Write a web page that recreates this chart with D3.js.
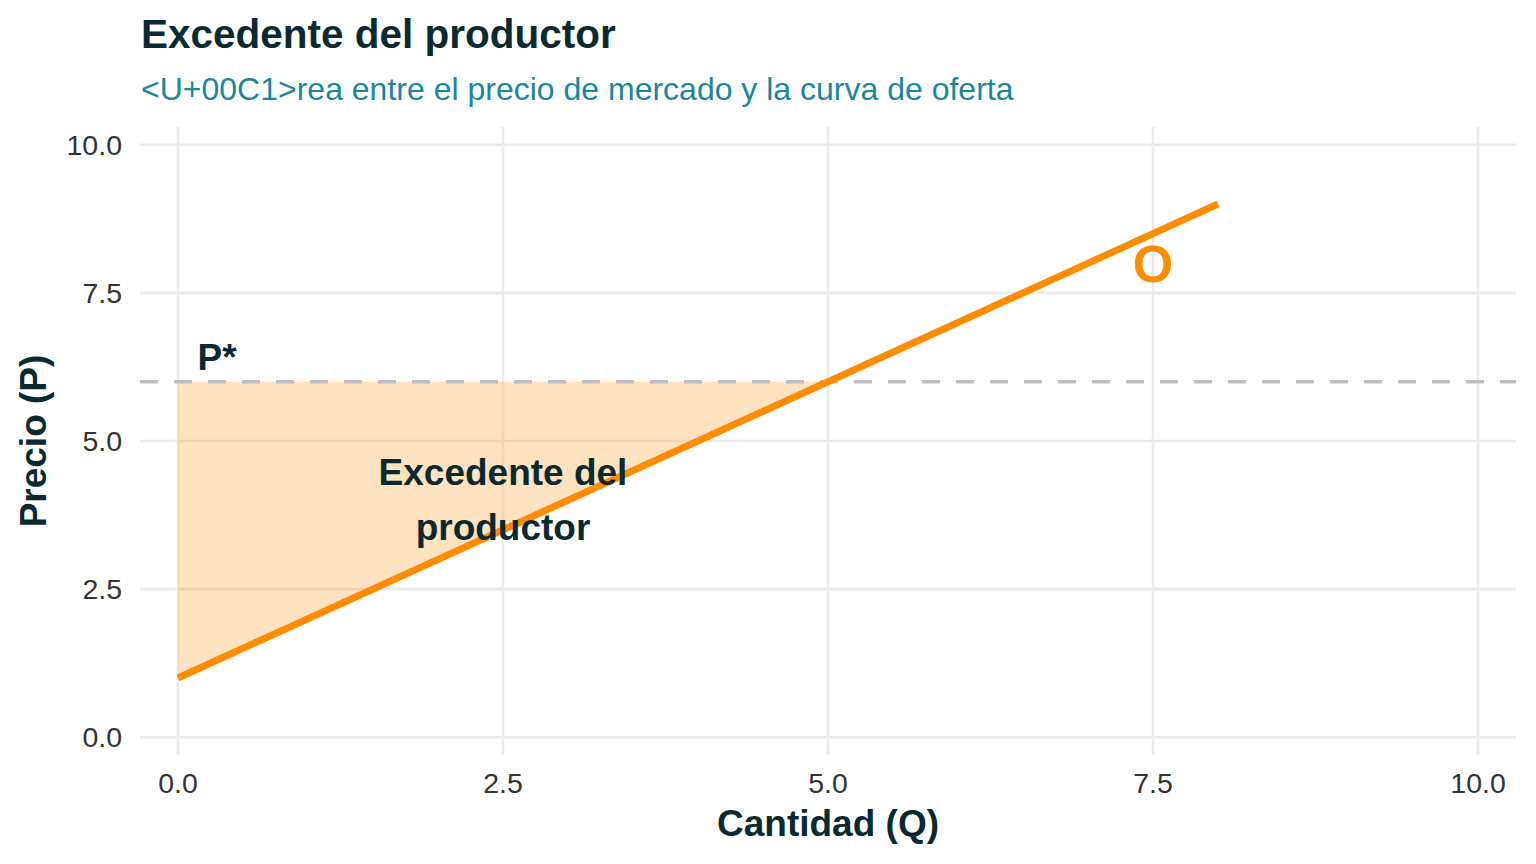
<!DOCTYPE html>
<html>
<head>
<meta charset="utf-8">
<script src="https://cdn.jsdelivr.net/npm/d3@7"></script>
<style>
  body { margin: 0; background: #fff; }
  svg text { font-family: "Liberation Sans", Arial, sans-serif; }
</style>
</head>
<body>
<svg id="chart" width="1536" height="864"></svg>
<script>
// supply curve O: P = 1 + Q, drawn from Q=0 to Q=8
const supplyQ = [0, 8];
const supplyP = [1, 9];
const marketPrice = 6;
// producer surplus triangle
const surplusQ = [0, 0, 5];
const surplusP = [1, 6, 6];
const xTicks = [0, 2.5, 5, 7.5, 10];
const yTicks = [0, 2.5, 5, 7.5, 10];

const titleText = "Excedente del productor";
const subtitleText = "<U+00C1>rea entre el precio de mercado y la curva de oferta";

const svg = d3.select("#chart");
const panel = { left: 140, right: 1516, top: 127, bottom: 755 };

const x = d3.scaleLinear().domain([-0.292, 10.292]).range([panel.left, panel.right]);
const y = d3.scaleLinear().domain([-0.3, 10.3]).range([panel.bottom, panel.top]);

const darkText = "#0b2a30";
const orange = "#ff8c00";

// gridlines
svg.append("g").selectAll("line.gx")
    .data(xTicks).enter().append("line")
    .attr("x1", d => x(d)).attr("x2", d => x(d))
    .attr("y1", panel.top).attr("y2", panel.bottom)
    .attr("stroke", "#ebebeb").attr("stroke-width", 2.6);

svg.append("g").selectAll("line.gy")
    .data(yTicks).enter().append("line")
    .attr("y1", d => y(d)).attr("y2", d => y(d))
    .attr("x1", panel.left).attr("x2", panel.right)
    .attr("stroke", "#ebebeb").attr("stroke-width", 2.6);

// tick labels
svg.append("g").selectAll("text")
    .data(xTicks).enter().append("text")
    .attr("x", d => x(d)).attr("y", 793)
    .attr("text-anchor", "middle")
    .attr("font-size", 28.5).attr("fill", "#333")
    .text(d => d3.format(".1f")(d));

svg.append("g").selectAll("text")
    .data(yTicks).enter().append("text")
    .attr("x", 122).attr("y", d => y(d))
    .attr("dy", "0.36em")
    .attr("text-anchor", "end")
    .attr("font-size", 28.5).attr("fill", "#333")
    .text(d => d3.format(".1f")(d));

// surplus area
const surplusPts = surplusQ.map((q, i) => [x(q), y(surplusP[i])]);
svg.append("path")
    .attr("d", d3.line()(surplusPts) + "Z")
    .attr("fill", orange).attr("fill-opacity", 0.25);

// market price dashed line
svg.append("line")
    .attr("x1", panel.left).attr("x2", panel.right)
    .attr("y1", y(marketPrice)).attr("y2", y(marketPrice))
    .attr("stroke", "#bebebe").attr("stroke-width", 3.5)
    .attr("stroke-dasharray", "18,16");

// supply curve
const supplyPts = supplyQ.map((q, i) => [x(q), y(supplyP[i])]);
svg.append("path")
    .attr("d", d3.line()(supplyPts))
    .attr("fill", "none").attr("stroke", orange).attr("stroke-width", 7);

// annotations
svg.append("text")
    .attr("x", x(0.15)).attr("y", y(marketPrice) - 12)
    .attr("font-size", 37).attr("font-weight", "bold").attr("fill", darkText)
    .text("P*");

const lbl = svg.append("text")
    .attr("x", x(2.5)).attr("y", y(4))
    .attr("text-anchor", "middle")
    .attr("font-size", 37).attr("font-weight", "bold").attr("fill", darkText);
lbl.append("tspan").attr("x", x(2.5)).attr("dy", "-0.42em").text("Excedente del");
lbl.append("tspan").attr("x", x(2.5)).attr("dy", "1.5em").text("productor");

svg.append("text")
    .attr("x", x(7.5)).attr("y", y(8))
    .attr("dy", "0.36em")
    .attr("text-anchor", "middle")
    .attr("font-size", 52).attr("font-weight", "bold").attr("fill", orange)
    .text("O");

// axis titles
svg.append("text")
    .attr("x", (panel.left + panel.right) / 2).attr("y", 836)
    .attr("text-anchor", "middle")
    .attr("font-size", 37).attr("font-weight", "bold").attr("fill", darkText)
    .text("Cantidad (Q)");

svg.append("text")
    .attr("transform", `translate(46, ${(panel.top + panel.bottom) / 2}) rotate(-90)`)
    .attr("text-anchor", "middle")
    .attr("font-size", 37).attr("font-weight", "bold").attr("fill", darkText)
    .text("Precio (P)");

// title & subtitle
svg.append("text")
    .attr("x", 141).attr("y", 48)
    .attr("font-size", 40.5).attr("font-weight", "bold").attr("fill", darkText)
    .text(titleText);

svg.append("text")
    .attr("x", 141).attr("y", 100)
    .attr("font-size", 32).attr("fill", "#1a879a")
    .text(subtitleText);
</script>
</body>
</html>
